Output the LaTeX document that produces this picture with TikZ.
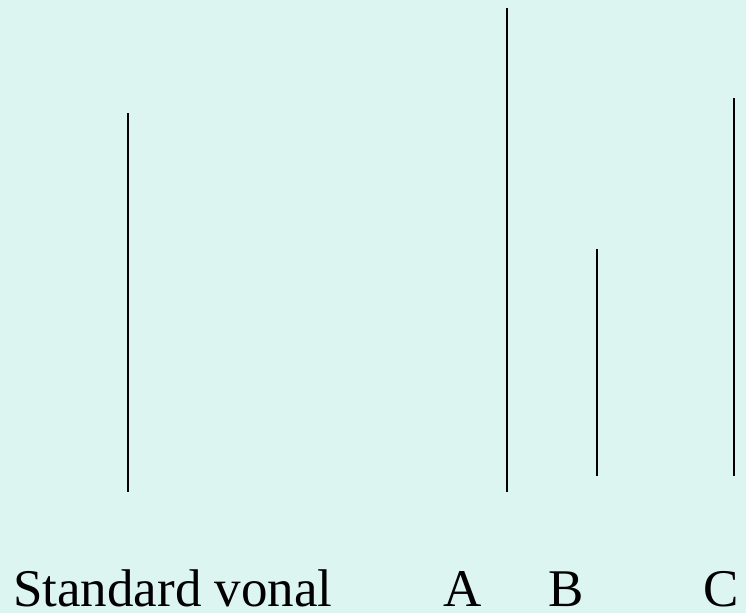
\documentclass[tikz,border=0pt]{standalone}
\usepackage{fontspec}
\setmainfont{Liberation Serif}
\definecolor{bgc}{RGB}{221,245,241}
\begin{document}
\begin{tikzpicture}[x=1pt,y=-1pt,
  stick/.style={draw=black,line width=1.4pt},
  lbl/.style={font=\fontsize{53}{60}\selectfont,inner sep=0pt,anchor=base west}]
\fill[bgc] (0,0) rectangle (746,613);
\useasboundingbox (0,0) rectangle (746,613);
\coordinate (s1) at (128,113); \coordinate (s2) at (128,492);
\coordinate (a1) at (507,8);   \coordinate (a2) at (507,492);
\coordinate (b1) at (597,249); \coordinate (b2) at (597,476);
\coordinate (c1) at (734,98);  \coordinate (c2) at (734,476);
\draw[stick] (s1) -- (s2);
\draw[stick] (a1) -- (a2);
\draw[stick] (b1) -- (b2);
\draw[stick] (c1) -- (c2);
\node[lbl] (ts) at (13,606) {Standard vonal};
\node[lbl] (ta) at (443,606) {A};
\node[lbl] (tb) at (548,606) {B};
\node[lbl] (tc) at (703,606) {C};
\end{tikzpicture}
\end{document}
